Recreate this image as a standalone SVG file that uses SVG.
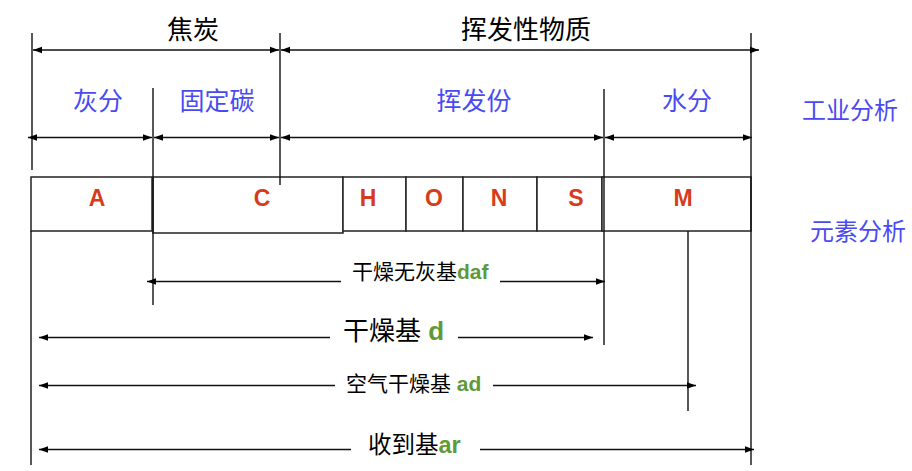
<svg xmlns="http://www.w3.org/2000/svg" width="912" height="471" viewBox="0 0 912 471">
<style>
text{font-family:"Liberation Sans","Noto Sans CJK SC",sans-serif}
.blk{fill:#000}
.blue{fill:#4a4af2;font-size:25px}
.red{fill:#d63c1c;font-size:23px;font-weight:bold}
.grn{fill:#5f9a38;font-weight:bold}
.box{fill:#fff;stroke:#222;stroke-width:1.5}
.ln{stroke:#111;stroke-width:1.4;fill:none}
.ar{stroke:#111;stroke-width:1.4;fill:none;marker-end:url(#ah)}
.ar2{stroke:#111;stroke-width:1.4;fill:none;marker-start:url(#ah);marker-end:url(#ah)}
</style>
<defs>
<marker id="ah" markerUnits="userSpaceOnUse" markerWidth="10" markerHeight="8" refX="9" refY="4" orient="auto-start-reverse">
<path d="M0,0.7 L9,4 L0,7.3 z" fill="#000"/>
</marker>
</defs>
<rect width="912" height="471" fill="#fff"/>

<g id="nodes">
<g id="box-A"><rect class="box" x="31" y="177" width="121" height="54"/><text class="red" x="97" y="206" text-anchor="middle">A</text></g>
<g id="box-C"><rect class="box" x="153" y="177" width="190" height="56"/><text class="red" x="262" y="206" text-anchor="middle">C</text></g>
<g id="box-H"><rect class="box" x="343" y="177" width="63" height="54"/><text class="red" x="368" y="206" text-anchor="middle">H</text></g>
<g id="box-O"><rect class="box" x="406" y="177" width="57" height="54"/><text class="red" x="434" y="206" text-anchor="middle">O</text></g>
<g id="box-N"><rect class="box" x="463" y="177" width="74" height="54"/><text class="red" x="499" y="206" text-anchor="middle">N</text></g>
<g id="box-S"><rect class="box" x="537" y="177" width="65" height="54"/><text class="red" x="576" y="206" text-anchor="middle">S</text></g>
<g id="box-M"><rect class="box" x="602" y="177" width="149" height="54"/><text class="red" x="683" y="206" text-anchor="middle">M</text></g>
</g>

<g id="connectors">
<line class="ln" x1="32" y1="33" x2="32" y2="170"/>
<line class="ln" x1="153" y1="88" x2="153" y2="305"/>
<line class="ln" x1="280" y1="33" x2="280" y2="185"/>
<line class="ln" x1="604" y1="89" x2="604" y2="345"/>
<line class="ln" x1="751" y1="33" x2="751" y2="465"/>
<line class="ln" x1="31" y1="231" x2="31" y2="465"/>
<line class="ln" x1="688" y1="231" x2="688" y2="411"/>

<line class="ar2" x1="33" y1="50" x2="279" y2="50"/>
<line class="ar2" x1="281" y1="50" x2="759" y2="50"/>

<line class="ar2" x1="28" y1="137.5" x2="152" y2="137.5"/>
<line class="ar2" x1="154" y1="137.5" x2="279" y2="137.5"/>
<line class="ar2" x1="281" y1="137.5" x2="603" y2="137.5"/>
<line class="ar2" x1="605" y1="137.5" x2="752" y2="137.5"/>

<line class="ar" x1="341" y1="281.5" x2="147" y2="281.5"/>
<line class="ar" x1="500" y1="281.5" x2="605" y2="281.5"/>
<line class="ar" x1="330" y1="337.5" x2="39" y2="337.5"/>
<line class="ar" x1="458" y1="337.5" x2="593" y2="337.5"/>
<line class="ar" x1="335" y1="385.5" x2="39" y2="385.5"/>
<line class="ar" x1="493" y1="385.5" x2="696" y2="385.5"/>
<line class="ar" x1="351" y1="449.5" x2="39" y2="449.5"/>
<line class="ar" x1="480" y1="449.5" x2="754" y2="449.5"/>
</g>

<g id="labels">
<text class="blk" x="193" y="39" font-size="26" text-anchor="middle">焦炭</text>
<text class="blk" x="526" y="39" font-size="26" text-anchor="middle">挥发性物质</text>
<text class="blue" x="98" y="110" text-anchor="middle">灰分</text>
<text class="blue" x="217" y="110" text-anchor="middle">固定碳</text>
<text class="blue" x="474" y="110" text-anchor="middle">挥发份</text>
<text class="blue" x="687" y="110" text-anchor="middle">水分</text>
<text class="blue" x="850" y="119" text-anchor="middle" style="font-size:24px">工业分析</text>
<text class="blue" x="858" y="240" text-anchor="middle" style="font-size:24px">元素分析</text>
<text x="352" y="279" font-size="21">干燥无灰基<tspan class="grn">daf</tspan></text>
<text x="343" y="340" font-size="26">干燥基 <tspan class="grn">d</tspan></text>
<text x="346" y="391" font-size="21">空气干燥基 <tspan class="grn">ad</tspan></text>
<text x="368" y="453" font-size="23.5">收到基<tspan class="grn">ar</tspan></text>
</g>
</svg>
